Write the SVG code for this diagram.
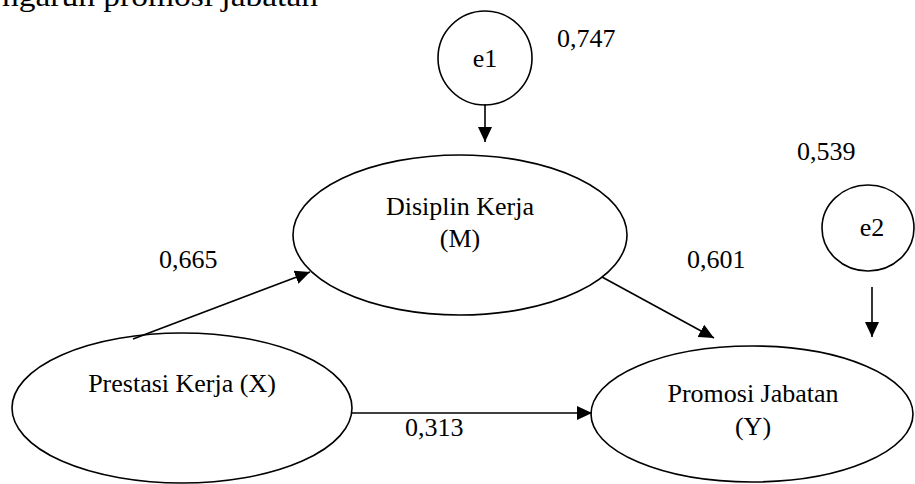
<svg xmlns="http://www.w3.org/2000/svg" width="915" height="484" viewBox="0 0 915 484">
<style>
.n{fill:none;stroke:#000;stroke-width:1.6}
.t{font-family:"Liberation Serif","Times New Roman",serif;font-size:26px;fill:#000}
.m{text-anchor:middle}
.c{stroke:#000;stroke-width:1.6;fill:none;marker-end:url(#ah)}
</style>
<defs>
<marker id="ah" markerUnits="userSpaceOnUse" markerWidth="16" markerHeight="14" refX="15" refY="7" orient="auto">
<path d="M0,0 L15,7 L0,14 z" fill="#000"/>
</marker>
</defs>
<rect width="915" height="484" fill="#fff"/>
<text class="t" x="2" y="6" style="font-size:30px" textLength="316" lengthAdjust="spacingAndGlyphs">ngaruh promosi jabatan</text>
<g id="connectors">
<line class="c" x1="485" y1="104" x2="485" y2="142"/>
<line class="c" x1="872" y1="287" x2="872" y2="337"/>
<line class="c" x1="133" y1="339" x2="310" y2="272"/>
<line class="c" x1="602" y1="277" x2="714" y2="338"/>
<line class="c" x1="352" y1="413" x2="592" y2="413"/>
</g>
<g id="e1">
<circle class="n" cx="485" cy="58" r="47"/>
<text class="t m" x="485" y="67">e1</text>
</g>
<g id="M">
<ellipse class="n" cx="460" cy="235" rx="167" ry="80"/>
<text class="t m" x="460" y="215">Disiplin Kerja</text>
<text class="t m" x="460" y="247">(M)</text>
</g>
<g id="X">
<ellipse class="n" cx="182" cy="408" rx="170" ry="75"/>
<text class="t m" x="182" y="392">Prestasi Kerja (X)</text>
</g>
<g id="Y">
<ellipse class="n" cx="752" cy="414" rx="161" ry="68"/>
<text class="t m" x="753" y="402">Promosi Jabatan</text>
<text class="t m" x="753" y="435">(Y)</text>
</g>
<g id="e2">
<ellipse class="n" cx="868" cy="228" rx="46" ry="43"/>
<text class="t m" x="872" y="236">e2</text>
</g>
<g id="labels">
<text class="t" x="557" y="47">0,747</text>
<text class="t" x="797" y="160">0,539</text>
<text class="t" x="159" y="268">0,665</text>
<text class="t" x="687" y="268">0,601</text>
<text class="t" x="405" y="436">0,313</text>
</g>
</svg>
